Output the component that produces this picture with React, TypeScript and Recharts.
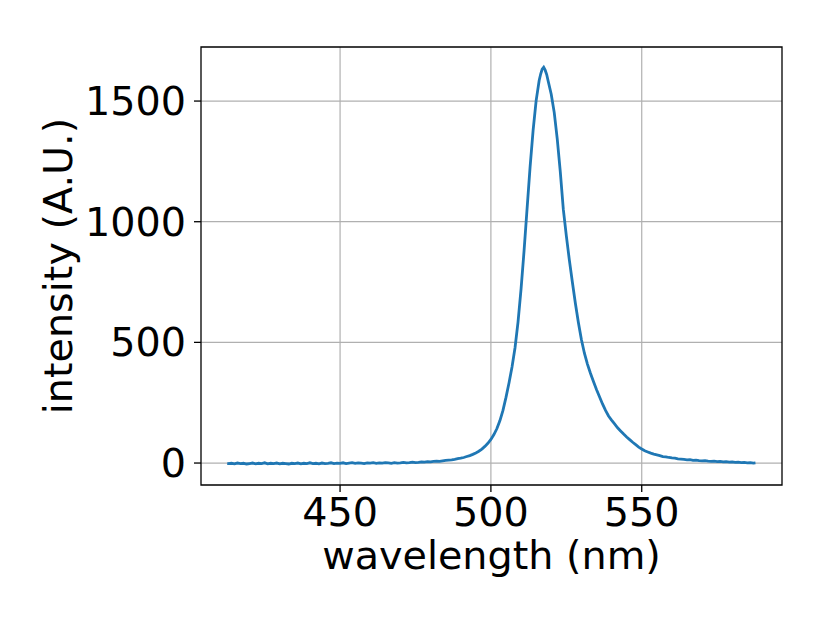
import React from "react";
import { LineChart, Line, XAxis, YAxis, CartesianGrid, ReferenceArea, Label } from "recharts";

// [wavelength (nm), intensity (A.U.)]
const spectrum: [number, number][] = [
  [412.6, -1], [413, -2], [414, -1], [415, -3], [416, 0], [417, -2], [418, -1], [419, -4], [420, -2],
  [421, 0], [422, -3], [423, -1], [424, -2], [425, 1], [426, -3], [427, -1], [428, -2], [429, 0], [430, -3],
  [431, -1], [432, -2], [433, -4], [434, -1], [435, -2], [436, 0], [437, -3], [438, -1], [439, -2], [440, 1],
  [441, -2], [442, -1], [443, -3], [444, 0], [445, -2], [446, -1], [447, 1], [448, -2], [449, 0], [450, -1],
  [451, 1], [452, -2], [453, 0], [454, 2], [455, -1], [456, 1], [457, 0], [458, -2], [459, 1], [460, 0],
  [461, 2], [462, -1], [463, 1], [464, 0], [465, 2], [466, 1], [467, -1], [468, 2], [469, 0], [470, 1],
  [471, 3], [472, 1], [473, 2], [474, 4], [475, 2], [476, 3], [477, 5], [478, 4], [479, 6], [480, 5],
  [481, 7], [482, 8], [483, 7], [484, 9], [485, 11], [486, 12], [487, 13], [488, 15], [489, 18], [490, 20],
  [491, 23], [492, 27], [493, 31], [494, 36], [495, 42], [496, 49], [497, 58], [498, 69], [499, 82], [500, 98],
  [501, 118], [502, 143], [503, 176], [504, 218], [505, 272], [506, 332], [507, 398], [508, 478], [509, 585], [510, 722],
  [511, 880], [512, 1055], [513, 1228], [514, 1380], [515, 1502], [516, 1585], [516.5, 1612], [517, 1632], [517.5, 1640], [518, 1628],
  [518.5, 1610], [519, 1582], [520, 1528], [521, 1452], [522, 1342], [523, 1208], [524, 1052], [525, 942], [526, 842], [527, 750],
  [528, 662], [529, 582], [530, 512], [531, 455], [532, 410], [533, 372], [534, 338], [535, 305], [536, 275], [537, 245],
  [538, 218], [539, 195], [540, 178], [541, 162], [542, 146], [543, 133], [544, 120], [545, 108], [546, 97], [547, 86],
  [548, 76], [549, 66], [550, 58], [551, 51], [552, 46], [553, 41], [554, 37], [555, 34], [556, 31], [557, 27],
  [558, 26], [559, 23], [560, 21], [561, 20], [562, 17], [563, 16], [564, 15], [565, 13], [566, 14], [567, 11],
  [568, 12], [569, 10], [570, 9], [571, 10], [572, 8], [573, 7], [574, 8], [575, 6], [576, 7], [577, 5],
  [578, 6], [579, 4], [580, 5], [581, 3], [582, 4], [583, 2], [584, 3], [585, 1], [586, 2], [587, 0], [587.7, 1],
];

const xTicks = [450, 500, 550];
const yTicks = [0, 500, 1000, 1500];
const xDomain: [number, number] = [403.9, 596.5];
const yDomain: [number, number] = [-91, 1724];

const data = spectrum.map(([wl, v]) => ({ wl, v }));

const FONT = "DejaVu Sans";
const FS = 39.7;

const XLabel = (props: any) => {
  const vb = props.viewBox || {};
  return (
    <text x={vb.x + vb.width / 2} y={vb.y + 84} textAnchor="middle" fontFamily={FONT} fontSize={FS} fill="#000">
      wavelength (nm)
    </text>
  );
};

const YLabel = (props: any) => {
  const vb = props.viewBox || {};
  const x = vb.x + 72;
  const y = vb.y + vb.height / 2;
  return (
    <text x={x} y={y} transform={`rotate(-90, ${x}, ${y})`} textAnchor="middle" fontFamily={FONT} fontSize={FS} fill="#000">
      intensity (A.U.)
    </text>
  );
};

export default function App() {
  return (
    <div style={{ position: "absolute", left: 0, top: 0, width: 830, height: 623, background: "#fff" }}>
      <LineChart width={830} height={623} data={data} margin={{ top: 47, right: 48, left: 0, bottom: 0 }}>
        <CartesianGrid stroke="#b0b0b0" strokeWidth={1.2} horizontalValues={yTicks} verticalValues={xTicks} />
        <XAxis
          dataKey="wl"
          type="number"
          domain={xDomain}
          allowDataOverflow
          ticks={xTicks}
          height={138}
          axisLine={false}
          tickSize={7}
          tickMargin={6}
          tickLine={{ stroke: "#000", strokeWidth: 1.3 }}
          tick={{ fontSize: FS, fontFamily: FONT, fill: "#000" }}
        >
          <Label content={<XLabel />} />
        </XAxis>
        <YAxis
          type="number"
          domain={yDomain}
          allowDataOverflow
          ticks={yTicks}
          width={201}
          axisLine={false}
          tickSize={7}
          tickMargin={8}
          tickLine={{ stroke: "#000", strokeWidth: 1.3 }}
          tick={{ fontSize: FS, fontFamily: FONT, fill: "#000" }}
        >
          <Label content={<YLabel />} />
        </YAxis>
        <ReferenceArea
          x1={xDomain[0]}
          x2={xDomain[1]}
          y1={yDomain[0]}
          y2={yDomain[1]}
          fill="none"
          fillOpacity={0}
          stroke="#000"
          strokeWidth={1.3}
          ifOverflow="visible"
        />
        <Line
          type="linear"
          dataKey="v"
          stroke="#1f77b4"
          strokeWidth={2.8}
          dot={false}
          isAnimationActive={false}
        />
      </LineChart>
    </div>
  );
}
